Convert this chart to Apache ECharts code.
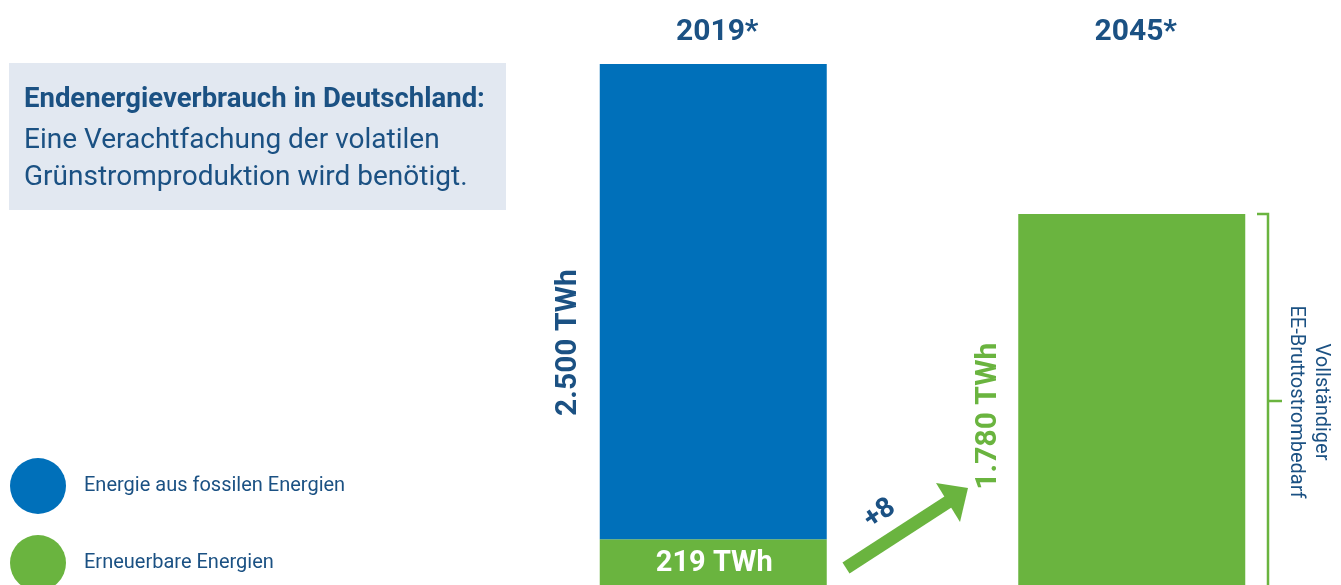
<!DOCTYPE html>
<html>
<head>
<meta charset="utf-8">
<script src="https://cdn.jsdelivr.net/npm/echarts@6/dist/echarts.min.js"></script>
<style>
html,body{margin:0;padding:0;background:#fff;}
#c{width:1341px;height:585px;}
</style>
</head>
<body>
<div id="c"></div>
<script>
const categories = ['2019*', '2045*'];
const fossil = [2281, null];
const renewable = [219, 1780];
const totalLabels = ['2.500 TWh', null];
const renewableLabels = ['219 TWh', '1.780 TWh'];
const seriesNames = ['Energie aus fossilen Energien', 'Erneuerbare Energien'];
const titleText = 'Endenergieverbrauch in Deutschland:';
const subText = 'Eine Verachtfachung der volatilen\nGrünstromproduktion wird benötigt.';
const arrowText = '+8';
const bracketText = 'Vollständiger\nEE-Bruttostrombedarf';

const BLUE = '#0070ba';
const GREEN = '#6ab43f';
const TXT = '#1b5183';
const FONT = 'Roboto, "Noto Sans", sans-serif';

const chart = echarts.init(document.getElementById('c'), null, {renderer: 'canvas'});

const legendBase = {
  left: 10,
  orient: 'vertical',
  padding: 0,
  itemWidth: 56,
  itemHeight: 56,
  icon: 'circle',
  selectedMode: false,
  textStyle: {color: TXT, fontSize: 20, fontFamily: FONT, padding: [5, 0, 0, 13]}
};

const option = {
  animation: false,
  backgroundColor: '#ffffff',
  textStyle: {fontFamily: FONT},
  grid: {left: 504, width: 843, top: 64, bottom: 0, containLabel: false},
  xAxis: {
    type: 'category',
    data: categories,
    position: 'top',
    axisLine: {show: false},
    axisTick: {show: false},
    axisLabel: {
      margin: 17,
      color: TXT,
      fontSize: 30,
      fontWeight: 'bold',
      fontFamily: FONT,
      padding: [0, 0, 0, 8]
    }
  },
  yAxis: {
    type: 'value',
    min: 0,
    max: 2500,
    show: false
  },
  legend: [
    Object.assign({}, legendBase, {top: 458, data: [seriesNames[0]]}),
    Object.assign({}, legendBase, {top: 535, data: [seriesNames[1]]})
  ],
  series: [
    {
      name: seriesNames[1],
      type: 'bar',
      stack: 'total',
      barWidth: 227,
      data: renewable.map((v, i) => ({
        value: v,
        label: i === 0 ? {
          show: true, position: 'inside', color: '#ffffff', fontSize: 29, fontWeight: 'bold',
          offset: [1, 2], formatter: renewableLabels[i]
        } : {
          show: true, position: [-30, '54.5%'], rotate: 90, align: 'center', verticalAlign: 'middle',
          color: GREEN, fontSize: 30, fontWeight: 'bold', formatter: renewableLabels[i]
        }
      })),
      itemStyle: {color: GREEN}
    },
    {
      name: seriesNames[0],
      type: 'bar',
      stack: 'total',
      barWidth: 227,
      data: fossil.map((v, i) => ({
        value: v,
        label: totalLabels[i] ? {
          show: true, position: [-31, '58.6%'], rotate: 90, align: 'center', verticalAlign: 'middle',
          color: TXT, fontSize: 30, fontWeight: 'bold', formatter: totalLabels[i]
        } : {show: false}
      })),
      itemStyle: {color: BLUE}
    }
  ],
  graphic: [
    {type: 'rect', shape: {x: 9, y: 63, width: 497, height: 147}, style: {fill: '#e2e8f1'}, z: 1},
    {type: 'text', x: 24, y: 100, style: {text: titleText, fill: TXT, font: 'bold 27.5px ' + FONT, textVerticalAlign: 'middle'}, z: 2},
    {type: 'text', x: 24, y: 122, style: {text: subText, fill: TXT, font: '28px ' + FONT, lineHeight: 37}, z: 2},
    // arrow
    {type: 'line', shape: {x1: 846, y1: 568, x2: 951, y2: 500}, style: {stroke: GREEN, lineWidth: 13}, z: 3},
    {type: 'polygon', shape: {points: [[968, 488], [936, 483], [960, 522]]}, style: {fill: GREEN}, z: 3},
    {type: 'text', x: 880, y: 514, rotation: 34 * Math.PI / 180,
      style: {text: arrowText, fill: TXT, font: 'bold 28px ' + FONT, textAlign: 'center', textVerticalAlign: 'middle'}, z: 3},
    // bracket
    {type: 'polyline', shape: {points: [[1257, 214], [1268, 214], [1268, 585]]}, style: {stroke: GREEN, lineWidth: 2.5, fill: null}, z: 3},
    {type: 'line', shape: {x1: 1268, y1: 401, x2: 1282, y2: 401}, style: {stroke: GREEN, lineWidth: 2.5}, z: 3},
    {type: 'text', x: 1308, y: 402, rotation: -Math.PI / 2,
      style: {text: bracketText, fill: TXT, font: '20px ' + FONT, textAlign: 'center', textVerticalAlign: 'middle', lineHeight: 25}, z: 3}
  ]
};
chart.setOption(option);
</script>
</body>
</html>
